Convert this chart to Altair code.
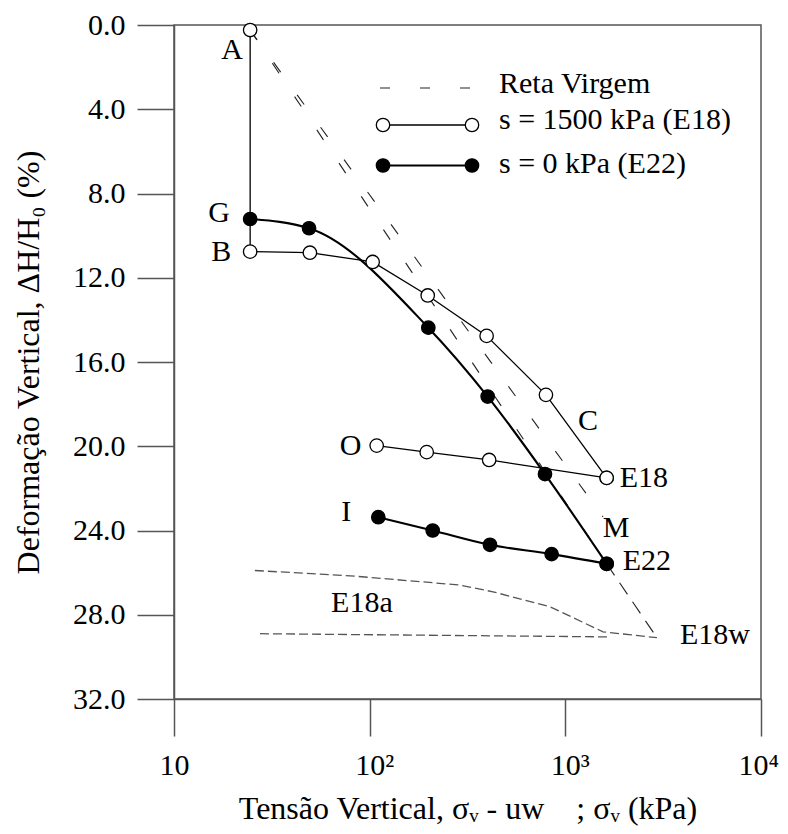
import altair as alt
import pandas as pd

# ---------------- data ----------------
# s = 1500 kPa (E18): A -> B -> ... -> E18 (loading)
e18_load_sv = [24.5, 24.5, 49.5, 103.6, 198, 396, 796, 1626]
e18_load_def = [0.24, 10.76, 10.81, 11.25, 12.84, 14.76, 17.56, 21.50]
# E18 unloading branch O -> E18
e18_unload_sv = [108.6, 195.7, 408, 1626]
e18_unload_def = [19.97, 20.28, 20.65, 21.50]
# s = 0 kPa (E22): G -> E22 (loading)
e22_load_sv = [24.5, 49.0, 199.4, 401, 787, 1626]
e22_load_def = [9.21, 9.65, 14.37, 17.64, 21.32, 25.58]
# E22 unloading branch I -> E22
e22_unload_sv = [110.7, 209.9, 412, 851, 1626]
e22_unload_def = [23.37, 24.00, 24.68, 25.12, 25.58]
# Reta Virgem (virgin compression lines)
rv1_sv = [24.5, 1626]
rv1_def = [0.24, 25.58]
rv1b_sv = [1626, 2939]
rv1b_def = [25.58, 29.09]
rv2_sv = [24.5, 1558]
rv2_def = [0.24, 23.35]
# E18a / E18w (dashed)
e18a_up_sv = [25.9, 79.4, 282.7, 426.6, 835, 1558, 2939]
e18a_up_def = [25.90, 26.15, 26.58, 26.91, 27.62, 28.81, 29.09]
e18a_low_sv = [27.5, 1633]
e18a_low_def = [28.90, 29.05]

# point labels (anchored on data points)
label_text = ["A", "B", "G", "C", "E18", "M", "E22", "O", "I", "E18a", "E18w"]
label_sv = [24.5, 24.5, 24.5, 796, 1626, 1558, 1626, 108.6, 110.7, 25.9, 2939]
label_def = [0.24, 10.76, 9.21, 17.56, 21.50, 23.35, 25.58, 19.97, 23.37, 25.90, 29.09]
# label offsets (style): dx, dy, align
label_style = [(-18, 20, "center"), (-29, 0, "center"), (-31, -6, "center"),
               (42, 26, "center"), (13, 0, "left"), (13, 11, "center"),
               (16, -3, "left"), (-26, 0, "center"), (-32, -5, "center"),
               (107, 32, "center"), (23, -3, "left")]

legend_labels = ["Reta Virgem", "s = 1500 kPa (E18)", "s = 0 kPa (E22)"]

x_ticks = [10, 100, 1000, 10000]
x_tick_labels = ["10", "10²", "10³", "10⁴"]
y_ticks = [0, 4, 8, 12, 16, 20, 24, 28, 32]

NB = "\u00a0"
X_TITLE = "Tensão Vertical, σᵥ - uw" + NB * 4 + "; σᵥ (kPa)"
Y_TITLE = "Deformação Vertical, ΔH/H₀ (%)"

# ---------------- styling ----------------
FONT = "Liberation Serif"
GREY = "#555555"
W, H = 587, 674

label_expr = " : ".join(f"datum.value == {v} ? '{l}'" for v, l in zip(x_ticks, x_tick_labels)) + " : ''"

x_axis = alt.Axis(values=x_ticks, labelExpr=label_expr, grid=False, tickSize=37,
                  tickColor=GREY, tickWidth=1.5, domainColor=GREY, domainWidth=1.5,
                  labelFont=FONT, labelFontSize=30, labelColor="black", labelPadding=14,
                  labelAlign="left",
                  labelOffset={"condition": {"test": "datum.value == 10000", "value": -23},
                               "value": -15},
                  labelFlush=False, labelOverlap=False,
                  title=X_TITLE, titleFont=FONT, titleFontSize=32, titleFontWeight="normal",
                  titleColor="black", titleBaseline="alphabetic", titleY=119)
y_axis = alt.Axis(values=y_ticks, format=".1f", grid=False, tickSize=37,
                  tickColor=GREY, tickWidth=1.5, domainColor=GREY, domainWidth=1.5,
                  labelFont=FONT, labelFontSize=30, labelColor="black", labelPadding=12,
                  labelFlush=False, labelOverlap=False,
                  title=Y_TITLE, titleFont=FONT, titleFontSize=32, titleFontWeight="normal",
                  titleColor="black", titleBaseline="middle", titleX=-146)

x_scale = alt.Scale(type="log", domain=[10, 10000], nice=False)
y_scale = alt.Scale(domain=[0, 32], reverse=True, nice=False, zero=False)


def frame(xs, ys):
    return pd.DataFrame({"sv": xs, "def": ys, "i": list(range(len(xs)))})


def enc():
    return dict(x=alt.X("sv:Q", scale=x_scale, axis=x_axis),
                y=alt.Y("def:Q", scale=y_scale, axis=y_axis),
                order=alt.Order("i:Q"))


def line(xs, ys, **kw):
    return alt.Chart(frame(xs, ys)).mark_line(**kw).encode(**enc())


def pts(xs, ys, fill):
    return alt.Chart(frame(xs, ys)).mark_point(
        shape="circle", size=180, filled=True, fill=fill, stroke="black",
        strokeWidth=1.3, opacity=1).encode(**enc())


layers = []
# dashed reference lines
layers.append(line(rv1_sv, rv1_def, color="#222", strokeWidth=1.1, strokeDash=[12, 28]))
layers.append(line(rv1b_sv, rv1b_def, color="#222", strokeWidth=1.1, strokeDash=[14, 9]))
layers.append(line(rv2_sv, rv2_def, color="#222", strokeWidth=1.1, strokeDash=[12, 28]))
layers.append(line(e18a_up_sv, e18a_up_def, color=GREY, strokeWidth=1.3, strokeDash=[9, 4]))
layers.append(line(e18a_low_sv, e18a_low_def, color=GREY, strokeWidth=1.3, strokeDash=[9, 4]))
# solid curves
layers.append(line(e18_load_sv, e18_load_def, color="black", strokeWidth=1.3))
layers.append(line(e18_unload_sv, e18_unload_def, color="black", strokeWidth=1.3))
layers.append(line(e22_load_sv, e22_load_def, color="black", strokeWidth=2.1, interpolate="monotone"))
layers.append(line(e22_unload_sv, e22_unload_def, color="black", strokeWidth=2.1, interpolate="monotone"))
# markers
layers.append(pts(e18_load_sv, e18_load_def, "white"))
layers.append(pts(e18_unload_sv, e18_unload_def, "white"))
layers.append(pts(e22_load_sv, e22_load_def, "black"))
layers.append(pts(e22_unload_sv, e22_unload_def, "black"))

# point labels
for t, sv, d, (dx, dy, al) in zip(label_text, label_sv, label_def, label_style):
    ldf = pd.DataFrame({"sv": [sv], "def": [d], "t": [t]})
    layers.append(alt.Chart(ldf).mark_text(font=FONT, fontSize=30, color="black",
                                           dx=dx, dy=dy, align=al, baseline="middle")
                  .encode(x=alt.X("sv:Q", scale=x_scale, axis=x_axis),
                          y=alt.Y("def:Q", scale=y_scale, axis=y_axis),
                          text="t:N"))

# legend (drawn inside the plot, pixel layout)
one = pd.DataFrame({"k": [0]})
layers.append(alt.Chart(one).mark_rule(color="#222", strokeWidth=1.1, strokeDash=[10, 30])
              .encode(x=alt.value(206), x2=alt.value(296), y=alt.value(63)))
layers.append(alt.Chart(one).mark_rule(color="black", strokeWidth=1.3)
              .encode(x=alt.value(209), x2=alt.value(298), y=alt.value(100)))
layers.append(alt.Chart(one).mark_rule(color="black", strokeWidth=2.1)
              .encode(x=alt.value(209), x2=alt.value(298), y=alt.value(140.5)))
for lx in (209, 298):
    layers.append(alt.Chart(one).mark_point(shape="circle", size=180, filled=True, fill="white",
                                            stroke="black", strokeWidth=1.3, opacity=1)
                  .encode(x=alt.value(lx), y=alt.value(100)))
    layers.append(alt.Chart(one).mark_point(shape="circle", size=180, filled=True, fill="black",
                                            stroke="black", strokeWidth=1.3, opacity=1)
                  .encode(x=alt.value(lx), y=alt.value(140.5)))
for txt, ly in zip(legend_labels, (68, 104, 148)):
    tdf = pd.DataFrame({"t": [txt]})
    layers.append(alt.Chart(tdf).mark_text(font=FONT, fontSize=30, color="black",
                                           align="left", baseline="alphabetic")
                  .encode(x=alt.value(325), y=alt.value(ly), text="t:N"))

chart = alt.layer(*layers).properties(
    width=W, height=H,
    autosize=alt.AutoSizeParams(type="none"),
    padding={"left": 166, "top": 17, "right": 19, "bottom": 127},
    background="white",
).configure_view(stroke=GREY, strokeWidth=1.5)

chart.save("out.html", embed_options={"renderer": "svg", "actions": False})
